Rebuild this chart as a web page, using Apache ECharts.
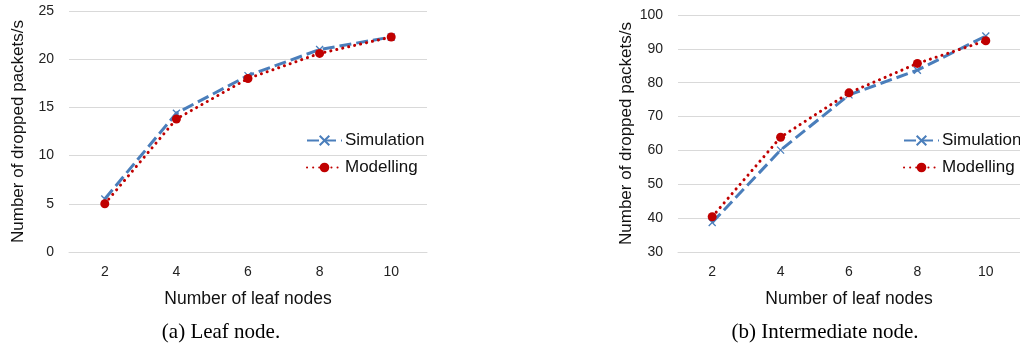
<!DOCTYPE html>
<html>
<head>
<meta charset="utf-8">
<script src="https://cdn.jsdelivr.net/npm/echarts@6/dist/echarts.min.js"></script>
<style>
  html, body { margin: 0; padding: 0; background: #fff; }
  #chart { width: 1020px; height: 346px; }
</style>
</head>
<body>
<div id="chart"></div>
<script>
// Number of leaf nodes (shared x categories)
const leafNodes = ['2', '4', '6', '8', '10'];

// (a) Leaf node
const leafSimulation = [5.5, 14.4, 18.3, 21.0, 22.3];
const leafModelling  = [5.0, 13.8, 18.0, 20.6, 22.3];

// (b) Intermediate node
const interSimulation = [38.7, 60.1, 76.4, 83.7, 93.8];
const interModelling  = [40.4, 63.9, 77.0, 85.7, 92.4];

const captions = ['(a) Leaf node.', '(b) Intermediate node.'];
const xName = 'Number of leaf nodes';
const yName = 'Number of dropped packets/s';

const SANS = 'Liberation Sans, Arial, sans-serif';
const SERIF = 'Liberation Serif, Times New Roman, serif';
const BLUE = '#4a7ebb';
const RED = '#c00000';
const GRID = '#d9d9d9';

const crossPath = 'path://M0,0L10,10M10,0L0,10';

function xAxis(gridIndex) {
  return {
    type: 'category', gridIndex, data: leafNodes, boundaryGap: true,
    axisLine: { show: true, lineStyle: { color: GRID, width: 1 } },
    axisTick: { show: false },
    axisLabel: { color: '#222', fontFamily: SANS, fontSize: 14, margin: 13 },
    name: xName, nameLocation: 'middle', nameGap: 38,
    nameTextStyle: { color: '#111', fontFamily: SANS, fontSize: 17.5 }
  };
}
function yAxis(gridIndex, min, max, interval, nameGap) {
  return {
    type: 'value', gridIndex, min, max, interval,
    axisLine: { show: false }, axisTick: { show: false },
    splitLine: { lineStyle: { color: GRID, width: 1 } },
    axisLabel: { color: '#222', fontFamily: SANS, fontSize: 14, margin: 15 },
    name: yName, nameLocation: 'middle', nameGap,
    nameTextStyle: { color: '#111', fontFamily: SANS, fontSize: 17 }
  };
}
function simSeries(idx, data) {
  return {
    name: 'Simulation', type: 'line', xAxisIndex: idx, yAxisIndex: idx, data,
    symbol: crossPath, symbolSize: 7, showAllSymbol: true,
    itemStyle: { color: BLUE, borderColor: BLUE, borderWidth: 1.3 },
    lineStyle: { color: BLUE, width: 3, type: [12, 5] },
    animation: false, z: 2
  };
}
function modSeries(idx, data) {
  return {
    name: 'Modelling', type: 'line', xAxisIndex: idx, yAxisIndex: idx, data,
    symbol: 'circle', symbolSize: 9,
    itemStyle: { color: RED, borderWidth: 0 },
    lineStyle: { color: RED, width: 3, type: [0.1, 6], cap: 'round' },
    animation: false, z: 3
  };
}
function legend(left) {
  return {
    left, top: 127, orient: 'vertical', selectedMode: false,
    itemWidth: 35, itemHeight: 12, itemGap: 10,
    data: ['Simulation', 'Modelling'],
    textStyle: { color: '#111', fontFamily: SANS, fontSize: 17, padding: [0, 0, 0, -2] }
  };
}

const chart = echarts.init(document.getElementById('chart'), null, { renderer: 'canvas' });
chart.setOption({
  backgroundColor: '#fff',
  animation: false,
  title: [
    { text: captions[0], left: 216, top: 317, textAlign: 'center',
      textStyle: { fontFamily: SERIF, fontSize: 21, fontWeight: 'normal', color: '#000' } },
    { text: captions[1], left: 820, top: 317, textAlign: 'center',
      textStyle: { fontFamily: SERIF, fontSize: 21, fontWeight: 'normal', color: '#000' } }
  ],
  grid: [
    { left: 69, top: 11, width: 358, height: 241, containLabel: false },
    { left: 678, top: 15, width: 350, height: 237, containLabel: false }
  ],
  xAxis: [xAxis(0), xAxis(1)],
  yAxis: [yAxis(0, 0, 25, 5, 42), yAxis(1, 30, 100, 10, 43)],
  legend: [legend(301), legend(898)],
  series: [
    simSeries(0, leafSimulation), modSeries(0, leafModelling),
    simSeries(1, interSimulation), modSeries(1, interModelling)
  ]
});
</script>
</body>
</html>
